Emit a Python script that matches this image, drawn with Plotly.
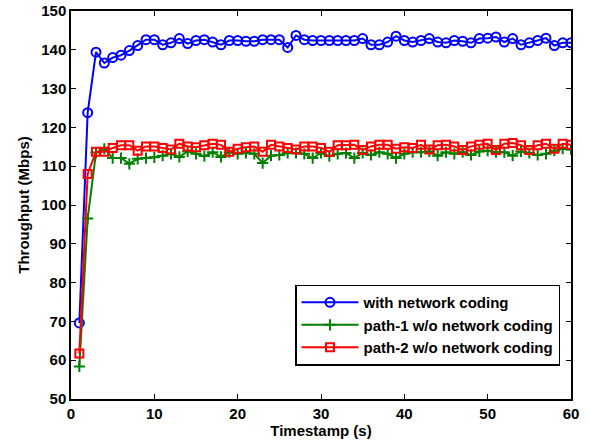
import plotly.graph_objects as go

timestamps = list(range(1, 61))

with_nc = [69.6, 123.8, 139.4, 136.6, 138.0, 138.6, 139.8, 141.1, 142.6, 142.6,
           141.3, 141.8, 142.9, 141.6, 142.4, 142.6, 142.0, 141.3, 142.4, 142.4,
           142.2, 142.2, 142.6, 142.6, 142.6, 140.6, 143.7, 142.6, 142.4, 142.4,
           142.4, 142.4, 142.4, 142.4, 142.9, 141.3, 141.3, 142.0, 143.5, 142.4,
           142.0, 142.4, 142.9, 142.0, 141.8, 142.4, 142.2, 141.8, 142.9, 143.0,
           143.3, 142.0, 142.9, 141.3, 141.8, 142.4, 143.0, 141.1, 141.8, 141.8]

path1 = [58.4, 96.5, 113.5, 114.5, 112.1, 112.1, 110.6, 111.9, 112.1, 112.3,
         112.7, 113.2, 112.4, 113.8, 113.2, 112.6, 113.6, 112.4, 113.6, 113.2,
         113.4, 113.2, 110.8, 112.7, 112.9, 113.4, 113.4, 113.2, 112.1, 113.4,
         112.6, 113.2, 113.4, 112.1, 113.4, 112.9, 113.6, 113.2, 112.1, 113.2,
         113.6, 113.6, 113.8, 112.7, 113.6, 113.2, 113.6, 112.9, 113.8, 114.0,
         113.6, 113.6, 112.7, 113.8, 113.4, 112.9, 113.2, 114.0, 114.5, 114.3]

path2 = [61.7, 108.0, 113.7, 113.7, 114.7, 115.4, 115.4, 114.0, 115.1, 115.1,
         114.7, 114.3, 115.8, 115.1, 114.9, 115.4, 115.8, 115.5, 113.7, 114.5,
         114.9, 115.1, 113.7, 115.5, 115.1, 114.7, 114.3, 115.1, 115.1, 114.7,
         113.7, 115.4, 115.4, 115.5, 114.2, 115.1, 115.5, 115.5, 114.5, 114.9,
         114.7, 115.5, 114.3, 115.4, 115.5, 115.1, 114.2, 115.1, 115.5, 115.8,
         114.2, 115.8, 116.0, 115.4, 114.2, 115.4, 115.8, 114.5, 115.8, 115.5]

series_names = ["with network coding", "path-1 w/o network coding", "path-2 w/o network coding"]
x_ticks = [0, 10, 20, 30, 40, 50, 60]
y_ticks = [50, 60, 70, 80, 90, 100, 110, 120, 130, 140, 150]

font_family = "Liberation Sans, Arial, sans-serif"

fig = go.Figure()
fig.add_trace(go.Scatter(
    x=timestamps, y=with_nc, name=series_names[0], mode="lines+markers",
    line=dict(color="#0000ff", width=2),
    marker=dict(symbol="circle-open", size=9, color="#0000ff", line=dict(width=2, color="#0000ff")),
))
fig.add_trace(go.Scatter(
    x=timestamps, y=path1, name=series_names[1], mode="lines+markers",
    line=dict(color="#008000", width=2),
    marker=dict(symbol="cross-thin-open", size=8, color="#008000", line=dict(width=2, color="#008000")),
))
fig.add_trace(go.Scatter(
    x=timestamps, y=path2, name=series_names[2], mode="lines+markers",
    line=dict(color="#ff0000", width=2),
    marker=dict(symbol="square-open", size=8, color="#ff0000", line=dict(width=2, color="#ff0000")),
))

axis_common = dict(
    showgrid=False, zeroline=False, showline=True, linecolor="black", linewidth=1.5,
    mirror="allticks", ticks="inside", ticklen=5, tickwidth=1, tickcolor="black",
    automargin=False, ticklabeloverflow="allow",
    tickfont=dict(family=font_family, size=15, color="black", weight="bold"),
)

fig.update_layout(
    width=589, height=447,
    margin=dict(l=71, r=18, t=11, b=48),
    paper_bgcolor="white", plot_bgcolor="white",
    font=dict(family=font_family, color="black"),
    xaxis=dict(range=[0, 60], tickvals=x_ticks,
               title=dict(text="<b>Timestamp (s)</b>", font=dict(size=15), standoff=2),
               **axis_common),
    yaxis=dict(range=[50, 150], tickvals=y_ticks,
               title=dict(text="<b>Throughput (Mbps)</b>", font=dict(size=15), standoff=8),
               **axis_common),
    legend=dict(
        x=0.448, y=0.295, xanchor="left", yanchor="top",
        bgcolor="white", bordercolor="black", borderwidth=1.5,
        font=dict(family=font_family, size=15, color="black", weight="bold"),
        tracegroupgap=0, itemwidth=57,
    ),
    showlegend=True,
)

# remove the default 8px page margin so the figure fills the window exactly
fig.write_html(
    "out.html",
    config={"displayModeBar": False},
    post_script="document.body.style.margin='0';document.body.style.overflow='hidden';",
)
